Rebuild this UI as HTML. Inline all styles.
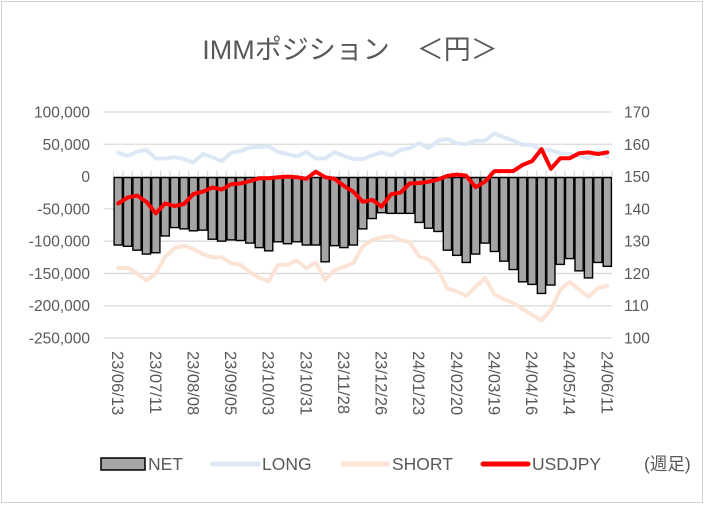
<!DOCTYPE html>
<html><head><meta charset="utf-8"><style>
body{margin:0;background:#fff}
svg text{font-family:"Liberation Sans","Noto Sans CJK JP",sans-serif;fill:#595959}
</style></head><body>
<svg width="706" height="506" viewBox="0 0 706 506" xmlns="http://www.w3.org/2000/svg">
<rect x="1.5" y="1.5" width="701" height="501" fill="#fff" stroke="#d0d0d0"/>
<text x="350" y="59" font-size="27" text-anchor="middle">IMMポジション　＜円＞</text>
<g id="grid"></g><g id="bars"></g><g id="lines"></g><g id="axes"></g>
<g>
<rect x="101" y="458" width="44" height="12" fill="#a5a5a5" stroke="#000" stroke-width="1.5"/>
<text x="148" y="470" font-size="17.5">NET</text>
<line x1="213" y1="464" x2="258" y2="464" stroke="#dce8f5" stroke-width="5" stroke-linecap="round"/>
<text x="262" y="470" font-size="17.5">LONG</text>
<line x1="343" y1="464" x2="388" y2="464" stroke="#fbe3d5" stroke-width="5" stroke-linecap="round"/>
<text x="392" y="470" font-size="17.5">SHORT</text>
<line x1="483" y1="464" x2="528" y2="464" stroke="#ff0000" stroke-width="5" stroke-linecap="round"/>
<text x="532" y="470" font-size="17.5">USDJPY</text>
<text x="644" y="470" font-size="17.5">(週足)</text>
</g>
</svg>
<script>
const net=[-106,-108,-114,-120,-118,-92,-79,-81,-84,-83,-97,-100,-98,-99,-103,-110,-115,-101,-104,-101,-106,-106,-132,-107,-110,-106,-81,-65,-56,-57,-57,-57,-71,-80,-85,-114,-122,-133,-120,-103,-116,-131,-144,-163,-167,-181,-168,-136,-127,-146,-157,-133,-139];
const longV=[37,32,38.5,41,28,28,30,27,22,35,30,24,37,39.5,45,46,47,38,35,31,38,28,28,38,32,27,27,33,37.5,33,41,44,52,44,55.5,58,51.5,50,55.5,55.5,67,61,55.5,49,49,41,41,36,35,32,28,39,31];
const shortV=[-142,-141,-150,-161,-150,-124,-111,-107,-112,-120,-125,-125,-134,-137,-148,-157,-162,-137,-136,-130,-142,-133,-160,-145,-140,-134,-108,-98,-94,-92,-98,-102,-124,-128,-144.5,-173,-178,-185,-171,-157,-182,-190,-196,-205,-214,-223,-206,-175,-163,-175,-186,-173,-169];
const usdjpy=[141.7,143.5,144.1,142.2,138.6,141.7,140.9,141.5,144.6,145.3,146.6,146,147.6,147.9,148.6,149.5,149.5,149.8,150,149.8,149.3,151.5,149.8,149.3,147.1,145.3,142.2,142.8,140.7,144.5,145,147.9,148,148.4,149.1,150.2,150.6,150.3,146.7,148.4,151.7,151.7,151.7,153.6,154.8,158.5,152.4,155.7,155.7,157.2,157.5,157,157.5];
const dates=["23/06/13","23/07/11","23/08/08","23/09/05","23/10/03","23/10/31","23/11/28","23/12/26","24/01/23","24/02/20","24/03/19","24/04/16","24/05/14","24/06/11"];
const leftTicks=[100000,50000,0,-50000,-100000,-150000,-200000,-250000];
const rightTicks=[170,160,150,140,130,120,110,100];
const NS="http://www.w3.org/2000/svg";
const X0=113.5,X1=612,N=net.length,slot=(X1-X0)/N;
const yTop=112,yBot=338;
const yL=v=>yTop+(100000-v)/350000*(yBot-yTop);
const yR=v=>yTop+(170-v)/70*(yBot-yTop);
const xc=i=>X0+slot*(i+0.5);
function mk(t,a,p){const e=document.createElementNS(NS,t);for(const k in a)e.setAttribute(k,a[k]);document.getElementById(p).appendChild(e);return e;}
leftTicks.forEach((v,i)=>{
 if(v!==0){const g=mk('line',{x1:X0-10,x2:X1,y1:yL(v),y2:yL(v),stroke:'#d9d9d9','stroke-width':1.3},'grid');
 
 }
 const t=mk('text',{x:90,y:yL(v)+5.5,'font-size':15.5,'text-anchor':'end'},'axes');t.textContent=v.toLocaleString('en-US');
 
 
});
rightTicks.forEach(v=>{const t=mk('text',{x:624,y:yR(v)+5.5,'font-size':15.5},'axes');t.textContent=v;
 
 });
const z=yL(0);
for(let i=0;i<=N;i++){const l=mk('line',{x1:X0+slot*i,x2:X0+slot*i,y1:z-6,y2:z,stroke:'#d9d9d9','stroke-width':1.2},'grid');
 
 }
const za=mk('line',{x1:X0,x2:X1,y1:z,y2:z,stroke:'#d9d9d9','stroke-width':1.3},'grid');


net.forEach((v,i)=>{const y=yL(v*1000);const b=mk('rect',{x:X0+slot*i+0.6,y:z+1,width:slot-1.2,height:Math.max(0,y-z-1),fill:'#a5a5a5',stroke:'#000','stroke-width':1.4},'bars');
 
 });
function line(arr,fy,col,w,name){const d=arr.map((v,i)=>(i?'L':'M')+xc(i).toFixed(1)+' '+fy(v).toFixed(1)).join(' ');
 const p=mk('path',{d:d,fill:'none',stroke:col,'stroke-width':w,'stroke-linejoin':'round','stroke-linecap':'round'},'lines');
 
 }
line(longV,v=>yL(v*1000),'#dce8f5',4,'long-line');
line(shortV,v=>yL(v*1000),'#fbe3d5',4,'short-line');
line(usdjpy,yR,'#ff0000',4,'usdjpy-line');
dates.forEach((d,k)=>{const x=xc(k*4)-6;const t=mk('text',{x:0,y:0,'font-size':16.5,transform:`translate(${x.toFixed(1)},351) rotate(90)`},'axes');t.textContent=d;
 
 });
</script>
</body></html>
